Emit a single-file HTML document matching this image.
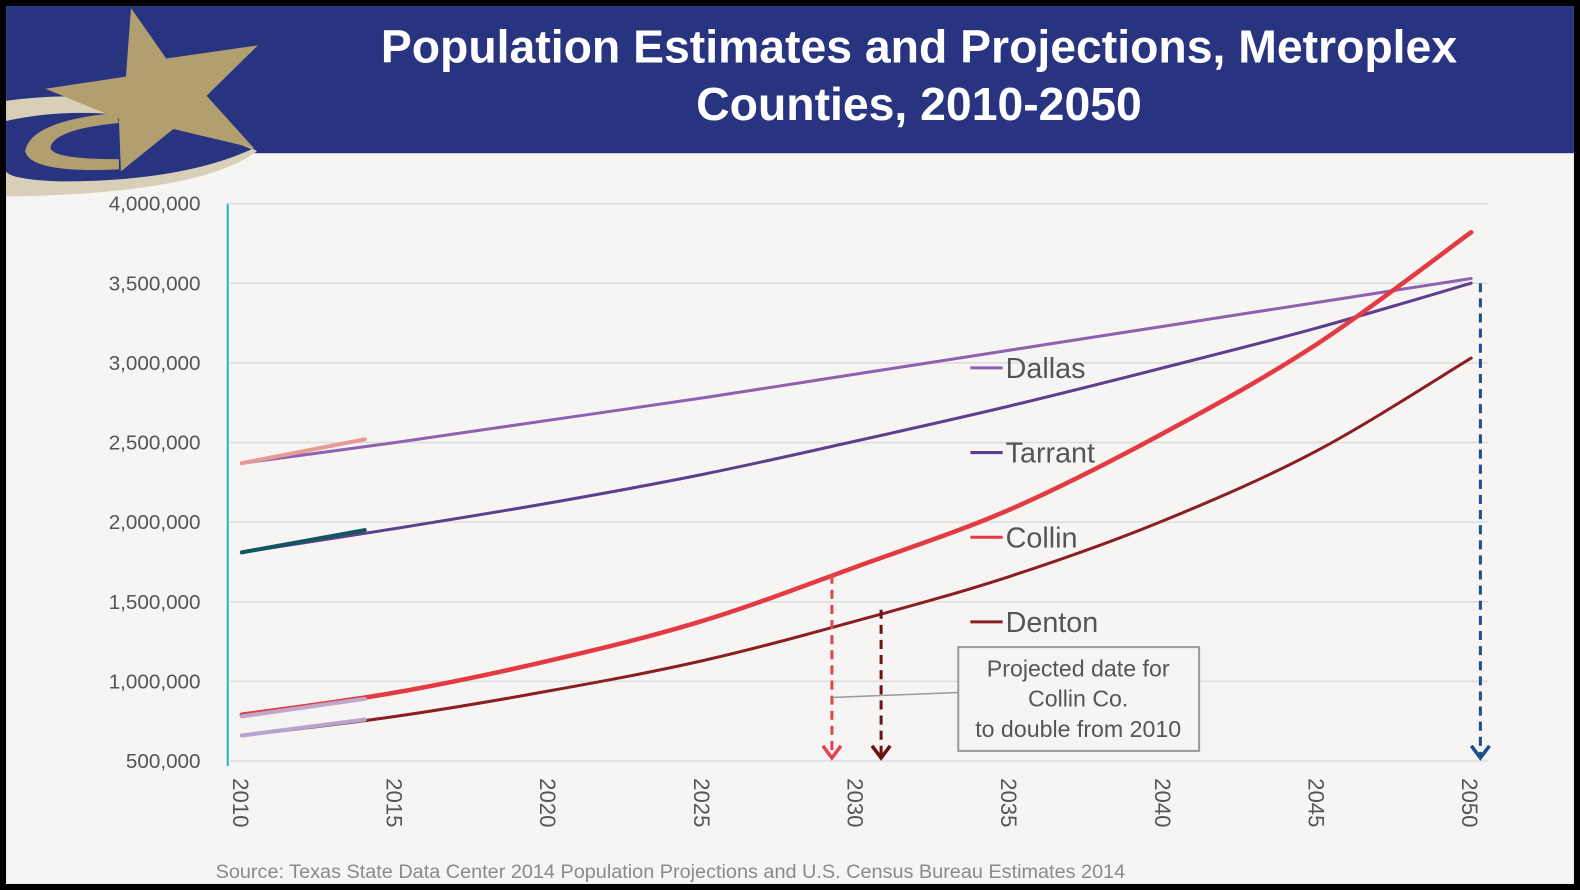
<!DOCTYPE html>
<html><head><meta charset="utf-8"><style>
html,body{margin:0;padding:0;background:#000;}
svg{display:block;font-family:"Liberation Sans",sans-serif;}
</style></head><body>
<svg id="chart" width="1580" height="890" viewBox="0 0 1568 883" preserveAspectRatio="none" xmlns="http://www.w3.org/2000/svg">
<defs><clipPath id="slideclip"><rect x="6" y="6" width="1556" height="871"/></clipPath></defs>
<rect x="0" y="0" width="1568" height="883" fill="#000"/>
<rect x="6" y="6" width="1556" height="871" fill="#f6f5f3"/>
<rect x="6" y="6" width="1556" height="146" fill="#283480"/>
<g clip-path="url(#slideclip)">
<path d="M6 100 Q150 80 255 150 Q200 192 6 195 Z" fill="#d8cfb8"/>
<path d="M6 120 Q120 95 250 148 Q180 180 60 180 Q10 178 6 170 Z" fill="#283480"/>
<path d="M115 112 Q30 120 25 150 Q30 172 118 168 L118 158 Q50 158 50 146 Q55 128 118 122 Z" fill="#b29f70"/>
<polygon points="130,8 165,58 256,45 205,95 252,147 172,128 120,170 118,118 45,88 125,76" fill="#b29f70"/>
</g>
<text x="912" y="62" text-anchor="middle" fill="#fff" font-size="46" font-weight="bold">Population Estimates and Projections, Metroplex</text>
<text x="912" y="119" text-anchor="middle" fill="#fff" font-size="46" font-weight="bold">Counties, 2010-2050</text>
<g id="grid"></g><g id="series"></g><g id="ann"></g>
<text x="214" y="871" fill="#8a8a8a" font-size="19.7">Source: Texas State Data Center 2014 Population Projections and U.S. Census Bureau Estimates 2014</text>
</svg>
<script>
const years=[2010,2015,2020,2025,2030,2035,2040,2045,2050];
const dallas=[2.37,2.50,2.64,2.78,2.93,3.08,3.23,3.38,3.53];
const tarrant=[1.81,1.96,2.12,2.30,2.51,2.73,2.97,3.22,3.50];
const collin=[0.79,0.93,1.13,1.38,1.72,2.08,2.56,3.12,3.82];
const denton=[0.66,0.78,0.94,1.13,1.38,1.66,2.01,2.45,3.03];
const estYears=[2010,2014];
const dallasEst=[2.37,2.52];
const tarrantEst=[1.81,1.95];
const collinEst=[0.78,0.89];
const dentonEst=[0.66,0.76];
const yTicks=[4,3.5,3,2.5,2,1.5,1,0.5];
const yTickLabels=["4,000,000","3,500,000","3,000,000","2,500,000","2,000,000","1,500,000","1,000,000","500,000"];
const xTicks=[2010,2015,2020,2025,2030,2035,2040,2045,2050];
const NS="http://www.w3.org/2000/svg";
const X=y=>240+(y-2010)*(1460-240)/40;
const Y=v=>202+(4-v)*(755-202)/3.5;
function mk(t,a,p){const e=document.createElementNS(NS,t);for(const k in a)e.setAttribute(k,a[k]);p.appendChild(e);return e;}
const g=document.getElementById('grid');
yTicks.forEach((v,i)=>{
 const l=mk('line',{x1:228,x2:1477,y1:Y(v),y2:Y(v),stroke:'#dcdcdc','stroke-width':1.5},g);
 
 
 const t=mk('text',{x:199,y:Y(v)+7,'text-anchor':'end','font-size':20.5,fill:'#555'},g);
 t.textContent=yTickLabels[i];
 
 
});
const ax=mk('line',{x1:226,x2:226,y1:202,y2:760,stroke:'#20b5c5','stroke-width':2},g);


xTicks.forEach(y=>{
 const t=mk('text',{transform:`translate(${X(y)-9},772) rotate(90)`,'font-size':22,fill:'#555'},g);
 t.textContent=y;
 
 
});
const s=document.getElementById('series');
function line(xs,vs,col,w,name){
 const P=xs.map((x,i)=>[X(x),Y(vs[i])]);
 let d='M'+P[0][0]+' '+P[0][1];
 for(let i=0;i<P.length-1;i++){
  const p0=P[Math.max(i-1,0)],p1=P[i],p2=P[i+1],p3=P[Math.min(i+2,P.length-1)];
  const c1=[p1[0]+(p2[0]-p0[0])/6,p1[1]+(p2[1]-p0[1])/6];
  const c2=[p2[0]-(p3[0]-p1[0])/6,p2[1]-(p3[1]-p1[1])/6];
  d+=` C${c1[0]} ${c1[1]} ${c2[0]} ${c2[1]} ${p2[0]} ${p2[1]}`;
 }
 const p=mk('path',{d:d,fill:'none',stroke:col,'stroke-width':w,'stroke-linecap':'round','stroke-linejoin':'round'},s);
 
 
}
line(years,dallas,'#8e62b0',3,'dallas-line');
line(years,tarrant,'#5e3f8e',3,'tarrant-line');
line(years,collin,'#e33a44',4.5,'collin-line');
line(years,denton,'#8a1e22',3,'denton-line');
line(estYears,dallasEst,'#e59a96',4,'dallas-estimate-line');
line(estYears,tarrantEst,'#12575f',4,'tarrant-estimate-line');
line(estYears,collinEst,'#c0a8cc',4,'collin-estimate-line');
line(estYears,dentonEst,'#b7a3cc',4,'denton-estimate-line');
const a=document.getElementById('ann');
function arrow(yr,v,col,name){
 const x=X(yr);
 const l=mk('line',{x1:x,x2:x,y1:Y(v),y2:752,stroke:col,'stroke-width':3,'stroke-dasharray':'9,6'},a);
 
 
 const h=mk('path',{d:`M${x-9} ${740} L${x} ${752} L${x+9} ${740}`,fill:'none',stroke:col,'stroke-width':3.5},a);
 
 
}
arrow(2029.2,1.67,'#e0464f','collin-double-arrow');
arrow(2030.8,1.45,'#6a1418','denton-double-arrow');
arrow(2050.3,3.5,'#1f4f8a','horizon-arrow');
const legend=[['Dallas','#8e62b0',365],['Tarrant','#5e3f8e',449],['Collin','#e33a44',533],['Denton','#8a1e22',617]];
legend.forEach(([n,c,y])=>{
 const l=mk('line',{x1:963,x2:995,y1:y,y2:y,stroke:c,'stroke-width':3},a);
 
 
 const t=mk('text',{x:998,y:y+10,'font-size':28.5,fill:'#555'},a);
 t.textContent=n;
 
 
});
const cl=mk('path',{d:'M826 692 L951 687',stroke:'#999','stroke-width':1.5,fill:'none'},a);


const bx=mk('rect',{x:951,y:642,width:239,height:103,fill:'#f6f5f3',stroke:'#9a9a9a','stroke-width':2},a);


['Projected date for','Collin Co.','to double from 2010'].forEach((t,i)=>{
 const e=mk('text',{x:1070,y:671+i*30,'text-anchor':'middle','font-size':23,fill:'#555'},a);
 e.textContent=t;
 
 
});
</script>
</body></html>
